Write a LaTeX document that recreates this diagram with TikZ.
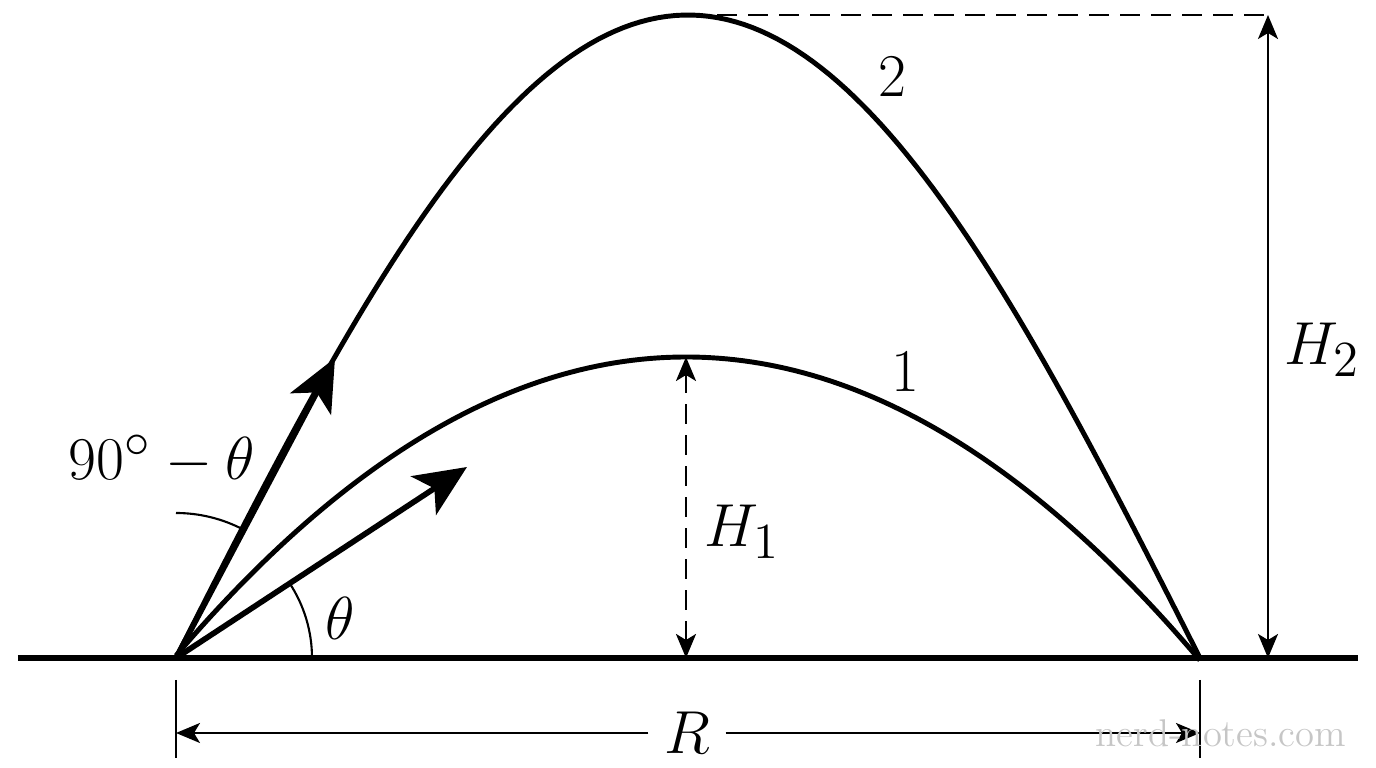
\documentclass[tikz,border=0pt]{standalone}
\usepackage{amsmath, amssymb}
\usepackage{tikz}
\usetikzlibrary{arrows.meta, positioning}

\begin{document}
\begin{tikzpicture}[>=Stealth,
    lbl/.style={font=\fontsize{19}{23}\selectfont, inner sep=1pt},
    traj/.style={line width=1.4pt},
    vec/.style={line width=1.6pt, -{Stealth[length=5.2mm, width=4.6mm, inset=1.3mm]}},
    dimline/.style={line width=0.6pt, {Stealth[length=2.4mm, width=2mm, inset=0.6mm]}-{Stealth[length=2.4mm, width=2mm, inset=0.6mm]}},
    dimtip/.style={line width=0.6pt, -{Stealth[length=2.4mm, width=2mm, inset=0.6mm]}},
    guide/.style={line width=0.75pt, dash pattern=on 0.2cm off 0.11cm}]
  \useasboundingbox (0,0) rectangle (13.76,7.68);
  \coordinate (O) at (1.76,1.10);
  \coordinate (L) at (12.00,1.10);
  \coordinate (gndL) at (0.18,1.10);
  \coordinate (gndR) at (13.58,1.10);
  \coordinate (top1) at (6.86,4.11);
  \coordinate (foot1) at (6.86,1.10);
  \coordinate (top2) at (6.86,7.53);
  \coordinate (h2top) at (12.68,7.53);
  \coordinate (h2bot) at (12.68,1.10);
  \coordinate (v1) at (4.67,3.01);
  \coordinate (v2) at (3.35,4.10);

  % ground
  \draw[line width=1.75pt] (gndL) -- (gndR);

  % the two trajectories
  \draw[traj] plot[domain=1.76:12, samples=120]
    (\x, {1.10+3.01*(1-((\x-6.86)/5.12)*((\x-6.86)/5.12))});
  \draw[traj] plot[domain=1.76:12, samples=120]
    (\x, {1.10+6.43*sin(180*(\x-1.76)/10.24)});

  % launch velocities
  \draw[vec] (O) -- (v1);
  \draw[vec] (O) -- (v2);

  % angles
  \draw[line width=0.6pt] ([shift={(0:1.36)}]O) arc[start angle=0, end angle=33.3, radius=1.36];
  \draw[line width=0.6pt] ([shift={(62.1:1.45)}]O) arc[start angle=62.1, end angle=90, radius=1.45];
  \node[lbl] (th) at (3.40,1.50) {$\theta$};
  \node[lbl] (cth) at (1.62,3.08) {$90^\circ-\theta$};

  % curve numbers
  \node[lbl] (n1) at (9.05,3.96) {$1$};
  \node[lbl] (n2) at (8.92,6.91) {$2$};

  % maximum heights
  \draw[dimline, guide] (foot1) -- (top1);
  \coordinate (h1mid) at (6.86,2.36);
  \node[lbl, right=0.14cm of h1mid] (H1) {$H_1$};
  \draw[guide] (top2) -- (h2top);
  \draw[dimline] (h2bot) -- (h2top);
  \coordinate (h2mid) at (12.68,4.18);
  \node[lbl, right=0.12cm of h2mid] (H2) {$H_2$};

  % range
  \coordinate (tickLa) at (1.76,0.88);
  \coordinate (tickLb) at (1.76,0.10);
  \coordinate (tickRa) at (12.00,0.88);
  \coordinate (tickRb) at (12.00,0.10);
  \coordinate (rL) at (1.76,0.35);
  \coordinate (rR) at (12.00,0.35);
  \draw[line width=0.6pt] (tickLa) -- (tickLb);
  \draw[line width=0.6pt] (tickRa) -- (tickRb);
  \node[lbl, inner sep=0.15cm] (R) at (6.87,0.35) {$R$};
  \draw[dimtip] (R) -- (rL);
  \draw[dimtip] (R) -- (rR);

  \node[text=gray!45, font=\fontsize{11}{13}\selectfont] (wm) at (12.21,0.35) {nerd-notes.com};
\end{tikzpicture}
\end{document}
